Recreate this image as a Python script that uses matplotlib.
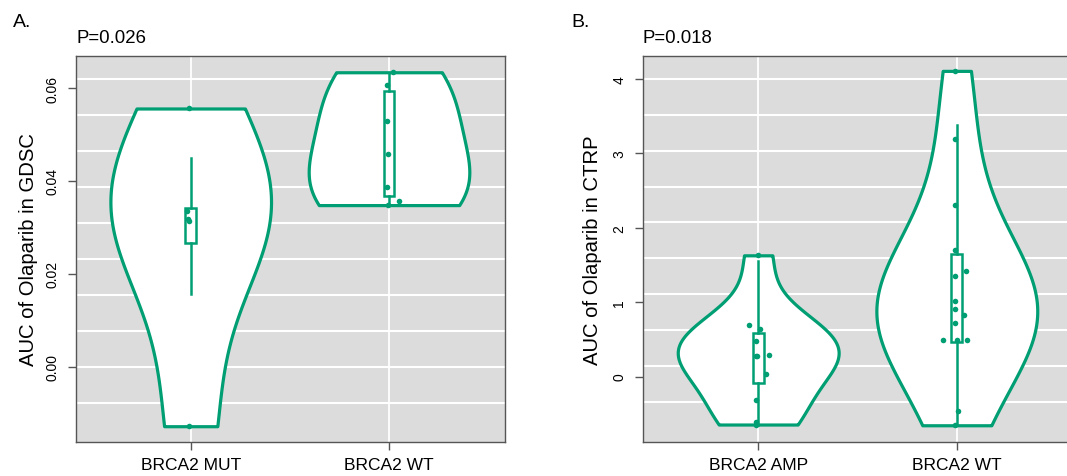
import matplotlib
matplotlib.use('Agg')
import matplotlib.pyplot as plt
import numpy as np

plt.rcParams['font.family'] = ['Liberation Sans', 'DejaVu Sans']

teal = '#009E73'
panel_bg = '#DCDCDC'
spine_grey = '#555555'

# ---- panel A: GDSC ----
gdsc_groups = ['BRCA2 MUT', 'BRCA2 WT']
gdsc_mut = [-0.0128, 0.0313, 0.0318, 0.0336, 0.0556]
gdsc_mut_jitter = [-0.01, -0.01, -0.012, -0.018, -0.01]
gdsc_wt = [0.0348, 0.0356, 0.0386, 0.0459, 0.0528, 0.0606, 0.0634]
gdsc_wt_jitter = [-0.005, 0.05, -0.008, -0.005, -0.008, -0.008, 0.022]
gdsc_q1 = [0.0266, 0.0368]
gdsc_q3 = [0.0341, 0.0593]
gdsc_whislo = [0.0156, 0.0348]
gdsc_whishi = [0.0450, 0.0631]
gdsc_med = [0.0313, 0.0459]
gdsc_bw = [0.76, 0.8]
gdsc_yticks = [0.00, 0.02, 0.04, 0.06]
gdsc_yticklabels = ['0.00', '0.02', '0.04', '0.06']
gdsc_grid = [-0.00775, 0.0, 0.00775, 0.0155, 0.02325, 0.031, 0.03875, 0.0465, 0.05425, 0.062]

# ---- panel B: CTRP ----
ctrp_groups = ['BRCA2 AMP', 'BRCA2 WT']
ctrp_amp = [-0.645, -0.606, -0.31, 0.035, 0.27, 0.281, 0.294, 0.483, 0.64, 0.694, 1.63]
ctrp_amp_jitter = [-0.01, -0.012, -0.01, 0.038, -0.012, -0.005, 0.053, -0.01, 0.008, -0.047, 0.0]
ctrp_wt = [-0.655, -0.467, 0.49, 0.49, 0.49, 0.715, 0.83, 0.91, 1.02, 1.356, 1.42, 1.705, 2.30, 3.20, 4.11]
ctrp_wt_jitter = [-0.01, 0.007, -0.07, 0.0, 0.05, -0.01, 0.035, -0.01, -0.01, -0.01, 0.045, -0.01, -0.01, -0.01, -0.01]
ctrp_q1 = [-0.09, 0.46]
ctrp_q3 = [0.582, 1.648]
ctrp_whislo = [-0.645, -0.655]
ctrp_whishi = [1.558, 3.386]
ctrp_med = [0.28, 0.91]
ctrp_bw = [0.62, 0.68]
ctrp_yticks = [0, 1, 2, 3, 4]
ctrp_yticklabels = ['0', '1', '2', '3', '4']
ctrp_grid = [-0.337, 0.145, 0.627, 1.109, 1.591, 2.073, 2.555, 3.037, 3.519, 4.0]


def draw_panel(ax, groups, values, jitters, q1, q3, whislo, whishi, med, bws,
               ylim, yticks, yticklabels, grid_y, ylabel):
    positions = [1, 2]
    ax.set_facecolor(panel_bg)

    # white grid behind everything
    for g in grid_y:
        ax.axhline(g, color='white', lw=1.5, zorder=0)
    for p in positions:
        ax.axvline(p, color='white', lw=1.3, zorder=0)

    # violins, one call per group so each gets its own bandwidth
    for pos, vals, bw in zip(positions, values, bws):
        parts = ax.violinplot([vals], positions=[pos], widths=0.81, bw_method=bw,
                              showextrema=False, points=300)
        for body in parts['bodies']:
            body.set_facecolor('white')
            body.set_edgecolor(teal)
            body.set_linewidth(2.3)
            body.set_alpha(1)
            body.set_zorder(2)

    # box + whiskers
    stats = []
    for i in range(len(positions)):
        stats.append(dict(med=med[i], q1=q1[i], q3=q3[i],
                          whislo=whislo[i], whishi=whishi[i], fliers=[]))
    ax.bxp(stats, positions=positions, widths=0.055, showcaps=False,
           showfliers=False, patch_artist=True,
           boxprops=dict(facecolor='white', edgecolor=teal, linewidth=1.8),
           whiskerprops=dict(color=teal, linewidth=1.8),
           medianprops=dict(linewidth=0), zorder=3)

    # jittered points
    for pos, vals, jit in zip(positions, values, jitters):
        ax.scatter(np.array(jit) + pos, vals, s=16, color=teal, zorder=4,
                   linewidths=0)

    ax.set_xlim(0.42, 2.585)
    ax.set_ylim(*ylim)
    ax.set_xticks(positions)
    ax.set_xticklabels(groups, fontsize=12.5)
    ax.set_yticks(yticks)
    ax.set_yticklabels(yticklabels, rotation=90, va='center', fontsize=10)
    ax.tick_params(axis='y', length=6, width=1, color=spine_grey, pad=6)
    ax.tick_params(axis='x', length=6, width=1, color=spine_grey, pad=5)
    for s in ax.spines.values():
        s.set_color(spine_grey)
        s.set_linewidth(1.0)
    ax.set_ylabel(ylabel, fontsize=14.6)


fig = plt.figure(figsize=(10.67, 4.77), dpi=100)
axA = fig.add_axes([75.7 / 1067, 1 - 443 / 477, 429.3 / 1067, 386 / 477])
axB = fig.add_axes([643 / 1067, 1 - 443 / 477, 430 / 1067, 386 / 477])

draw_panel(axA, gdsc_groups, [gdsc_mut, gdsc_wt], [gdsc_mut_jitter, gdsc_wt_jitter],
           gdsc_q1, gdsc_q3, gdsc_whislo, gdsc_whishi, gdsc_med, gdsc_bw,
           (-0.0162, 0.0669), gdsc_yticks, gdsc_yticklabels, gdsc_grid,
           'AUC of Olaparib in GDSC')
draw_panel(axB, ctrp_groups, [ctrp_amp, ctrp_wt], [ctrp_amp_jitter, ctrp_wt_jitter],
           ctrp_q1, ctrp_q3, ctrp_whislo, ctrp_whishi, ctrp_med, ctrp_bw,
           (-0.88, 4.31), ctrp_yticks, ctrp_yticklabels, ctrp_grid,
           'AUC of Olaparib in CTRP')

axA.yaxis.set_label_coords(-0.088, 0.5)
axB.yaxis.set_label_coords(-0.096, 0.5)

# panel letters and p-values
fig.text(13 / 1067, 1 - 27 / 477, 'A.', fontsize=14, va='baseline')
fig.text(76 / 1067, 1 - 43 / 477, 'P=0.026', fontsize=13.4, va='baseline')
fig.text(571 / 1067, 1 - 27 / 477, 'B.', fontsize=14, va='baseline')
fig.text(643 / 1067, 1 - 43 / 477, 'P=0.018', fontsize=13.4, va='baseline')

fig.savefig('out.png', dpi=100)
plt.close(fig)
